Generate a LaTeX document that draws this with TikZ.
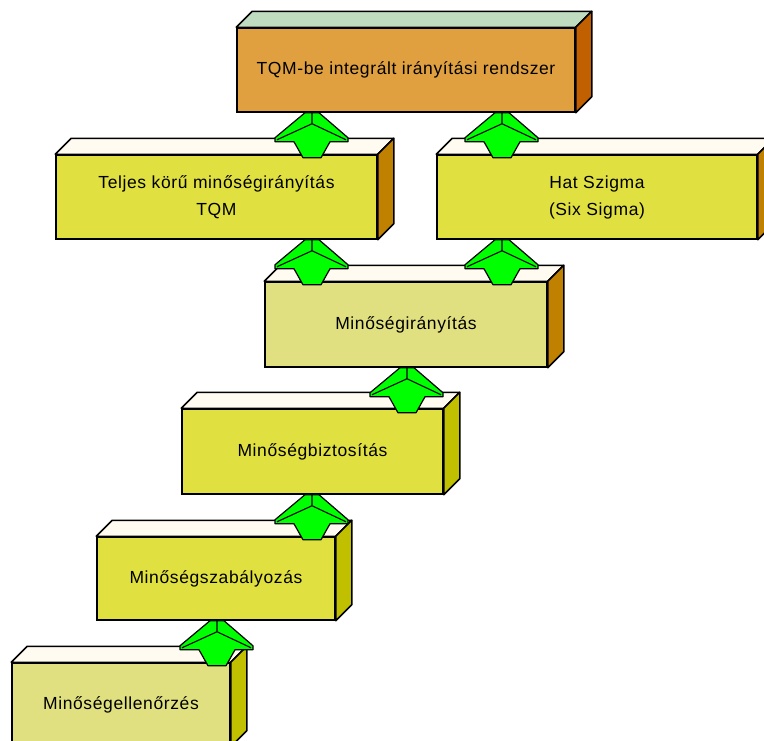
\documentclass[tikz,border=0pt]{standalone}
\usepackage{fontspec}
\setmainfont{Liberation Sans}[LetterSpace=3.5]
\usetikzlibrary{calc}

\definecolor{orangefront}{HTML}{E0A040}
\definecolor{orangetop}{HTML}{C0DCC0}
\definecolor{orangeside}{HTML}{C06000}
\definecolor{yellowfront}{HTML}{E0E040}
\definecolor{palefront}{HTML}{E0E080}
\definecolor{creamtop}{HTML}{FFFBF0}
\definecolor{brownside}{HTML}{C08000}
\definecolor{oliveside}{HTML}{C0C000}
\definecolor{arrowgreen}{HTML}{00FF00}

\tikzset{
  blockfront/.style={draw=black, line width=1.5pt, inner sep=0pt, align=center,
    font=\fontsize{17.5}{27}\selectfont},
  face/.style={draw=black, line width=1.5pt, line join=round},
  uparrow/.pic={
    \filldraw[fill=arrowgreen, draw=black, line width=1.2pt, line join=round]
      (-7,0) -- (7,0) -- (36,25) -- (36,29) -- (18,29) -- (9,45) -- (-9,45)
      -- (-18,29) -- (-37,29) -- (-37,25) -- cycle;
    \draw[black, line width=1.1pt] (0,0) -- (0,11) (-35,27) -- (0,11) -- (34,27);
  }
}

% top and side faces of a block whose front face is the node #1
\newcommand{\blockfaces}[3]{%
  \filldraw[face, fill=#2] (#1.north west) -- ++(16,-16)
    -- ($(#1.north east)+(16,-16)$) -- (#1.north east) -- cycle;
  \filldraw[face, fill=#3] (#1.north east) -- ++(16,-16)
    -- ($(#1.south east)+(16,-16)$) -- (#1.south east) -- cycle;
}

\begin{document}
\begin{tikzpicture}[x=1pt, y=-1pt]
  \useasboundingbox (0,0) rectangle (764,740);
  \clip (0,0) rectangle (764,740);

  % blocks (front faces)
  \node[blockfront, fill=orangefront, minimum width=338pt, minimum height=84pt]
    (tqm) at (406,70) {TQM-be integrált irányítási rendszer};
  \node[blockfront, fill=yellowfront, minimum width=321pt, minimum height=84pt]
    (teljes) at (216.5,197) {Teljes körű minőségirányítás\\TQM};
  \node[blockfront, fill=yellowfront, minimum width=320pt, minimum height=84pt]
    (hat) at (597,197) {Hat Szigma\\(Six Sigma)};
  \node[blockfront, fill=palefront, minimum width=282pt, minimum height=85pt]
    (iranyitas) at (406,324.5) {Minőségirányítás};
  \node[blockfront, fill=yellowfront, minimum width=261pt, minimum height=85pt]
    (biztositas) at (312.5,451.5) {Minőségbiztosítás};
  \node[blockfront, fill=yellowfront, minimum width=238pt, minimum height=83pt]
    (szabalyozas) at (216,578.5) {Minőségszabályozás};
  \node[blockfront, fill=palefront, minimum width=218pt, minimum height=83pt]
    (ellenorzes) at (121,704.5) {Minőségellenőrzés};

  \blockfaces{tqm}{orangetop}{orangeside}
  \blockfaces{teljes}{creamtop}{brownside}
  \blockfaces{hat}{creamtop}{brownside}
  \blockfaces{iranyitas}{creamtop}{brownside}
  \blockfaces{biztositas}{creamtop}{oliveside}
  \blockfaces{szabalyozas}{creamtop}{oliveside}
  \blockfaces{ellenorzes}{creamtop}{oliveside}

  % x positions of the connecting arrows
  \coordinate (xa) at (312,0);
  \coordinate (xb) at (502,0);
  \coordinate (xc) at (407,0);
  \coordinate (xd) at (217,0);

  % upward arrows, apex on the bottom edge of the upper block
  \pic at (tqm.south -| xa) {uparrow};
  \pic at (tqm.south -| xb) {uparrow};
  \pic at (teljes.south -| xa) {uparrow};
  \pic at (hat.south -| xb) {uparrow};
  \pic at (iranyitas.south -| xc) {uparrow};
  \pic at (biztositas.south -| xa) {uparrow};
  \pic at (szabalyozas.south -| xd) {uparrow};
\end{tikzpicture}
\end{document}
